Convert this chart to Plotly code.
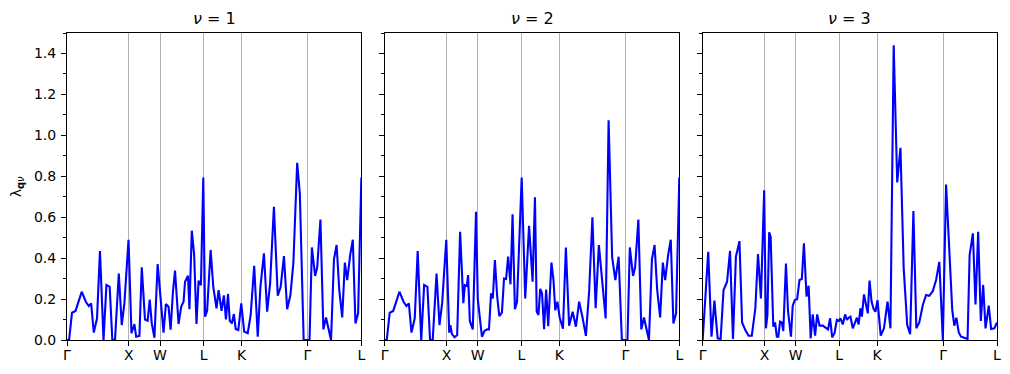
import plotly.graph_objects as go

# High-symmetry path labels and their positions (fraction of path length)
sym_labels = ["Γ", "X", "W", "L", "K", "Γ", "L"]
sym_pos = [0.0, 0.210, 0.316, 0.464, 0.593, 0.817, 1.0]

# nu = 1
q1 = [0, 0.007, 0.017, 0.029, 0.050, 0.064, 0.074, 0.082, 0.091, 0.102, 0.112, 0.124, 0.134, 0.145, 0.154, 0.163, 0.176, 0.186, 0.195, 0.209,
      0.219, 0.229, 0.235, 0.246, 0.254, 0.265, 0.274, 0.281, 0.288, 0.297, 0.308,
      0.328, 0.336, 0.345, 0.352, 0.360, 0.367, 0.379, 0.388, 0.396, 0.401, 0.411, 0.416, 0.424, 0.432, 0.440, 0.447, 0.455, 0.463,
      0.469, 0.476, 0.488, 0.497, 0.508, 0.515, 0.525, 0.533, 0.540, 0.547, 0.553, 0.560, 0.567, 0.573, 0.582, 0.592,
      0.602, 0.614, 0.624, 0.636, 0.648, 0.657, 0.669, 0.680, 0.690, 0.703, 0.716, 0.726, 0.737, 0.748, 0.759, 0.769, 0.782, 0.791, 0.804,
      0.824, 0.832, 0.843, 0.850, 0.861, 0.871, 0.880, 0.888, 0.897, 0.907, 0.916, 0.925, 0.935, 0.944, 0.952, 0.962, 0.971, 0.980, 0.989, 1.0]
lam1 = [0, 0, 0.133, 0.142, 0.236, 0.187, 0.166, 0.179, 0.036, 0.106, 0.435, 0, 0.269, 0.26, 0, 0, 0.325, 0.073, 0.18, 0.49,
        0.033, 0.078, 0.016, 0.02, 0.355, 0.10, 0.094, 0.197, 0.081, 0.011, 0.371,
        0.036, 0.176, 0.163, 0.05, 0.236, 0.339, 0.078, 0.163, 0.187, 0.285, 0.314, 0.15, 0.534, 0.415, 0.078, 0.29, 0.268, 0.794,
        0.114, 0.143, 0.44, 0.26, 0.155, 0.244, 0.143, 0.218, 0.1, 0.225, 0.094, 0.081, 0.127, 0.054, 0.049, 0.179,
        0.041, 0.033, 0.122, 0.363, 0.016, 0.257, 0.423, 0.138, 0.277, 0.651, 0.216, 0.26, 0.41, 0.15, 0.22, 0.374, 0.866, 0.716, 0,
        0, 0.452, 0.313, 0.355, 0.589, 0.052, 0.11, 0.057, 0, 0.394, 0.464, 0.244, 0.11, 0.378, 0.293, 0.415, 0.49, 0.081, 0.13, 0.794]

# nu = 2
q2 = [0, 0.007, 0.017, 0.029, 0.050, 0.064, 0.074, 0.082, 0.091, 0.102, 0.112, 0.124, 0.134, 0.145, 0.154, 0.163, 0.176, 0.186, 0.195, 0.209,
      0.219, 0.223, 0.228, 0.237, 0.246, 0.256, 0.267, 0.272, 0.279, 0.283, 0.289, 0.299, 0.310, 0.316, 0.330, 0.339, 0.348, 0.354, 0.361, 0.367,
      0.374, 0.382, 0.389, 0.398, 0.405, 0.412, 0.419, 0.427, 0.434, 0.442, 0.449, 0.465,
      0.477, 0.490, 0.502, 0.510, 0.516, 0.522, 0.528, 0.534, 0.541, 0.548, 0.555, 0.566, 0.573, 0.579, 0.586, 0.594,
      0.605, 0.615, 0.626, 0.638, 0.649, 0.660, 0.671, 0.683, 0.694, 0.705, 0.716, 0.727, 0.739, 0.750, 0.760, 0.772, 0.783, 0.794, 0.805,
      0.824, 0.832, 0.843, 0.850, 0.861, 0.871, 0.880, 0.888, 0.897, 0.907, 0.916, 0.925, 0.935, 0.944, 0.952, 0.962, 0.971, 0.980, 0.989, 1.0]
lam2 = [0, 0, 0.133, 0.142, 0.236, 0.187, 0.166, 0.179, 0.036, 0.106, 0.435, 0, 0.269, 0.26, 0, 0, 0.325, 0.073, 0.18, 0.49,
        0.036, 0.073, 0.03, 0.013, 0.024, 0.529, 0.18, 0.268, 0.264, 0.317, 0.093, 0.052, 0.627, 0.2, 0.016, 0.045, 0.052, 0.052, 0.228, 0.203,
        0.39, 0.21, 0.117, 0.135, 0.30, 0.298, 0.407, 0.272, 0.614, 0.15, 0.185, 0.794,
        0.203, 0.558, 0.285, 0.697, 0.138, 0.122, 0.25, 0.228, 0.053, 0.247, 0.067, 0.378, 0.292, 0.145, 0.187, 0.11,
        0.055, 0.452, 0.07, 0.138, 0.065, 0.187, 0.114, 0.02, 0.24, 0.599, 0.155, 0.464, 0.277, 0.105, 1.074, 0.405, 0.293, 0.407, 0,
        0, 0.452, 0.313, 0.355, 0.589, 0.052, 0.11, 0.057, 0, 0.394, 0.464, 0.244, 0.11, 0.378, 0.293, 0.415, 0.49, 0.081, 0.13, 0.794]

# nu = 3
q3 = [0, 0.009, 0.019, 0.030, 0.040, 0.045, 0.051, 0.061, 0.071, 0.083, 0.093, 0.103, 0.113, 0.125, 0.134, 0.145, 0.156, 0.167, 0.179, 0.188, 0.198, 0.209,
      0.215, 0.220, 0.226, 0.231, 0.240, 0.246, 0.252, 0.257, 0.263, 0.269, 0.274, 0.283, 0.290, 0.300, 0.306, 0.313,
      0.321, 0.329, 0.337, 0.344, 0.353, 0.360, 0.367, 0.374, 0.382, 0.389, 0.397, 0.408, 0.417, 0.426, 0.433, 0.440, 0.448, 0.456, 0.463,
      0.468, 0.476, 0.484, 0.490, 0.496, 0.502, 0.510, 0.519, 0.524, 0.530, 0.536, 0.541, 0.548, 0.561, 0.567, 0.574, 0.581, 0.587, 0.594,
      0.605, 0.616, 0.628, 0.638, 0.649, 0.661, 0.672, 0.683, 0.695, 0.705, 0.716, 0.726, 0.736, 0.748, 0.759, 0.770, 0.782, 0.793, 0.804, 0.816,
      0.827, 0.837, 0.848, 0.855, 0.862, 0.870, 0.878, 0.889, 0.900, 0.907, 0.918, 0.927, 0.936, 0.945, 0.953, 0.961, 0.972, 0.980, 0.991, 1.0]
lam3 = [0, 0.2, 0.431, 0.016, 0.192, 0.106, 0.008, 0.005, 0.244, 0.285, 0.435, 0.005, 0.407, 0.483, 0.086, 0.049, 0.021, 0.021, 0.155, 0.42, 0.203, 0.732,
        0.057, 0.122, 0.526, 0.505, 0.065, 0.086, 0.016, 0.016, 0.09, 0.086, 0.044, 0.374, 0.142, 0.016, 0.168, 0.195,
        0.199, 0.293, 0.298, 0.472, 0.212, 0.265, 0.008, 0.125, 0.021, 0.125, 0.07, 0.07, 0.06, 0.052, 0.106, 0.013, 0.033, 0.098, 0.093,
        0.106, 0.076, 0.125, 0.098, 0.109, 0.114, 0.057, 0.09, 0.109, 0.076, 0.155, 0.114, 0.223, 0.13, 0.29, 0.187, 0.151, 0.138, 0.195,
        0.021, 0.057, 0.187, 0.057, 1.44, 0.77, 0.939, 0.35, 0.073, 0.028, 0.63, 0.057, 0.086, 0.171, 0.22, 0.216, 0.239, 0.293, 0.382, 0,
        0.76, 0.48, 0.146, 0.07, 0.109, 0.037, 0.016, 0.011, 0.005, 0.415, 0.521, 0.174, 0.529, 0.093, 0.269, 0.057, 0.168, 0.054, 0.057, 0.086]

panel_titles = ["<i>ν</i> = 1", "<i>ν</i> = 2", "<i>ν</i> = 3"]
y_label = "λ<sub><b>q</b><i>ν</i></sub>"

FONT = "DejaVu Sans"
series = [(q1, lam1), (q2, lam2), (q3, lam3)]
domains = [[0.0, 0.3165], [0.3416, 0.6584], [0.6835, 1.0]]

fig = go.Figure()
layout = dict(
    width=1010, height=374,
    margin=dict(l=67, r=13, t=33, b=34, autoexpand=False),
    paper_bgcolor="white", plot_bgcolor="white",
    showlegend=False,
    font=dict(family=FONT, size=14, color="black"),
)

annotations = []
for k, (qx, ly) in enumerate(series):
    n = "" if k == 0 else str(k + 1)
    fig.add_trace(go.Scatter(x=qx, y=ly, mode="lines",
                             line=dict(color="#0000ff", width=2.1),
                             xaxis="x" + n, yaxis="y" + n, hoverinfo="skip"))
    layout["xaxis" + n] = dict(
        domain=domains[k], range=[0, 1], anchor="y" + n,
        tickvals=sym_pos, ticktext=sym_labels,
        showgrid=True, gridcolor="#b0b0b0", gridwidth=1,
        showline=True, mirror=True, linecolor="black", linewidth=1,
        ticks="outside", ticklen=5, tickwidth=1, tickcolor="black",
        tickfont=dict(family=FONT, size=14, color="black"),
        zeroline=False, ticklabelstandoff=-3, automargin=False,
    )
    layout["yaxis" + n] = dict(
        range=[0, 1.5], anchor="x" + n,
        tick0=0, dtick=0.2, tickformat=".1f",
        showticklabels=(k == 0),
        showgrid=False, zeroline=False,
        showline=True, mirror=True, linecolor="black", linewidth=1,
        ticks="outside", ticklen=5, tickwidth=1, tickcolor="black",
        minor=dict(ticks="outside", ticklen=3, tickwidth=1, tickcolor="black", dtick=0.1, showgrid=False),
        tickfont=dict(family=FONT, size=14, color="black"),
        ticklabelstandoff=2, automargin=False,
    )
    annotations.append(dict(
        text=panel_titles[k], xref="paper", yref="paper",
        x=(domains[k][0] + domains[k][1]) / 2, y=1.0,
        xanchor="center", yanchor="bottom", yshift=3, showarrow=False,
        font=dict(family=FONT, size=16, color="black"),
    ))

annotations.append(dict(
    text=y_label, xref="paper", yref="paper",
    x=-0.054, y=0.5, xanchor="center", yanchor="middle",
    textangle=-90, showarrow=False,
    font=dict(family=FONT, size=14, color="black"),
))
layout["annotations"] = annotations
fig.update_layout(**layout)

fig.write_html("out.html")
